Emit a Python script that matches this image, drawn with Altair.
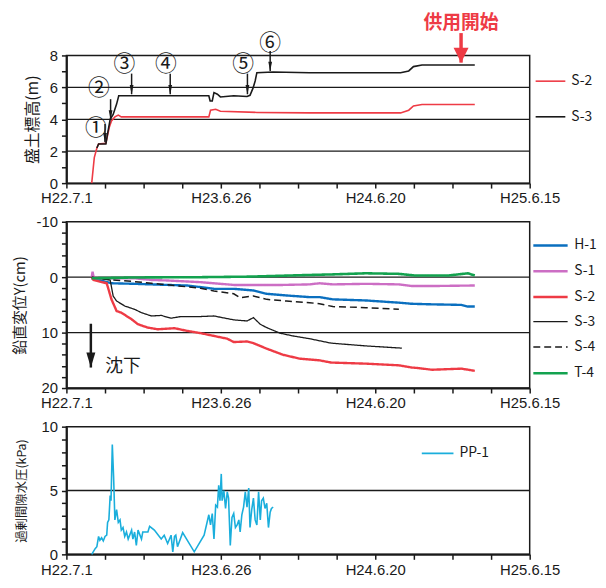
import altair as alt
import pandas as pd

# ---------------- x axis (days since H22.7.1) ----------------
x_tick_days = list(range(0, 1081, 90))
x_label_days = [0, 360, 720, 1080]
x_label_text = ["H22.7.1", "H23.6.26", "H24.6.20", "H25.6.15"]

# ---------------- panel 1: embankment height (m) ----------------
top_s2_day = [59, 65, 71, 75, 92, 100, 105, 113, 121, 128, 332, 336, 348, 359, 444, 567, 779, 798, 809, 829, 952]
top_s2_val = [0, 1.6, 2.2, 2.45, 2.5, 3.5, 3.9, 4.15, 4.26, 4.15, 4.15, 4.57, 4.63, 4.5, 4.43, 4.4, 4.4, 4.57, 4.84, 4.93, 4.93]
top_s3_day = [71, 75, 92, 96, 102, 109, 117, 122, 332, 335, 340, 344, 352, 359, 390, 421, 428, 435, 440, 444, 482, 567, 779, 798, 809, 829, 952]
top_s3_val = [2.2, 2.45, 2.45, 3.1, 4.0, 4.3, 4.95, 5.47, 5.47, 5.15, 5.15, 5.67, 5.57, 5.4, 5.47, 5.43, 5.5, 5.95, 6.4, 6.92, 6.96, 6.92, 6.92, 7.03, 7.3, 7.4, 7.4]
top_grid = [2, 4, 6]

step_labels = ["①", "②", "③", "④", "⑤", "⑥"]
step_label_day = [69, 76, 135, 232, 412, 475]
step_label_val = [3.45, 5.95, 7.44, 7.44, 7.44, 8.8]
step_arrow_day = [90, 103, 152, 242, 422, 475]
step_arrow_from = [3.7, 5.26, 6.86, 6.86, 6.86, 8.27]
step_arrow_to = [2.56, 4.0, 5.57, 5.57, 5.57, 7.03]

open_text = "供用開始"
open_day = 920
open_text_val = 10.03
open_arrow_from = 9.4
open_arrow_to = 7.55

# ---------------- panel 2: vertical displacement (cm) ----------------
h1_day = [59, 105, 159, 236, 282, 344, 390, 436, 467, 513, 567, 590, 621, 698, 775, 805, 852, 921, 936, 952]
h1_val = [0.2, 1.1, 1.2, 1.4, 1.5, 2.1, 2.1, 2.4, 3.0, 3.3, 3.6, 3.6, 4.0, 4.2, 4.6, 4.8, 4.9, 5.0, 5.3, 5.3]
s1_day = [59, 61, 64, 159, 198, 236, 313, 390, 436, 505, 567, 590, 621, 698, 775, 805, 852, 952]
s1_val = [0, -1.0, 0.2, 0.2, 0.5, 0.6, 0.9, 1.4, 1.4, 1.4, 1.3, 1.1, 1.3, 1.2, 1.3, 1.6, 1.6, 1.5]
s2_day = [59, 63, 94, 105, 117, 128, 152, 167, 190, 213, 252, 282, 313, 344, 375, 390, 421, 436, 467, 505, 544, 590, 617, 698, 775, 805, 821, 852, 921, 952]
s2_val = [0, 0.5, 1.1, 4.0, 6.1, 6.4, 7.6, 8.5, 9.1, 9.4, 9.2, 9.7, 10.1, 10.6, 11.1, 11.7, 11.6, 11.9, 12.9, 14.0, 14.7, 15.0, 15.4, 15.6, 15.9, 16.3, 16.4, 16.7, 16.5, 16.9]
s3_day = [59, 102, 109, 117, 136, 159, 175, 198, 221, 244, 267, 313, 344, 390, 421, 436, 452, 467, 498, 528, 567, 617, 698, 782]
s3_val = [0, 0.5, 3.4, 4.3, 5.2, 5.8, 6.4, 7.0, 6.9, 7.4, 7.1, 7.1, 7.0, 7.7, 7.9, 7.3, 8.5, 9.1, 10.1, 10.6, 11.1, 11.9, 12.4, 12.8]
s4_day = [59, 105, 159, 198, 252, 313, 344, 390, 405, 436, 467, 513, 567, 590, 621, 698, 775]
s4_val = [0, 0.5, 0.8, 1.1, 1.5, 2.0, 2.5, 3.0, 3.7, 3.4, 4.0, 4.3, 4.6, 4.8, 5.3, 5.5, 5.8]
t4_day = [59, 159, 313, 428, 567, 621, 698, 775, 813, 890, 936, 952]
t4_val = [0.2, 0.05, 0, -0.1, -0.4, -0.5, -0.7, -0.6, -0.3, -0.3, -0.7, -0.3]
mid_grid = [0, 10]
sink_text = "沈下"
sink_day = 57
sink_from = 8.4
sink_to = 16.3
sink_text_day = 132
sink_text_val = 16.2

# ---------------- panel 3: excess pore water pressure (kPa) ----------------
pp_day = [59, 67, 71, 75, 78, 82, 86, 90, 94, 96, 99, 102, 104, 107, 110, 113, 117, 121, 125, 128, 132, 136, 140, 144,
          152, 155, 159, 163, 167, 175, 178, 190, 194, 205, 221, 228, 236, 244, 248, 252, 255, 259, 271, 298, 321, 332,
          336, 340, 344, 348, 352, 355, 358, 361, 363, 367, 371, 375, 378, 382, 386, 390, 394, 398, 402, 405, 409, 413,
          417, 421, 425, 428, 432, 436, 440, 444, 448, 452, 455, 459, 463, 467, 471, 475, 478, 482]
pp_val = [0, 0.45, 0.6, 1.4, 1.1, 1.3, 1.05, 1.4, 1.5, 2.5, 2.7, 4.6, 4.2, 8.6, 6.1, 2.7, 3.5, 2.5, 2.7, 1.9, 2.1, 1.4,
          1.75, 1.2, 1.9, 1.2, 1.75, 0.7, 1.9, 1.2, 1.75, 1.75, 2.2, 1.9, 1.2, 1.5, 0.85, 1.5, 0.2, 1.4, 1.5, 0.6, 1.7,
          0.2, 1.5, 3.1, 2.3, 3.2, 1.2, 3.85, 3.7, 5.4, 4.2, 6.3, 4.2, 5.0, 3.6, 4.9, 4.4, 0.7, 2.9, 3.2, 2.1, 2.3, 2.7,
          1.75, 3.1, 3.7, 4.9, 3.7, 5.2, 2.1, 3.5, 4.4, 2.7, 2.3, 4.9, 2.7, 4.2, 4.4, 3.6, 4.0, 2.1, 3.3, 3.6, 3.7]
bot_grid = [5]

# ---------------- styling ----------------
RED = "#EE3B45"
BLACK = "#1a1a1a"
BLUE = "#0A6FBF"
PINK = "#CC6EC4"
GREEN = "#13A24F"
CYAN = "#1AAEDC"
LABEL_FONT = "Liberation Sans"
JP_FONT = "Noto Sans CJK JP"

W = 468

x_expr = " : ".join(f"datum.value == {d} ? '{t}'" for d, t in zip(x_label_days, x_label_text)) + " : ''"

X_AXIS = alt.Axis(values=x_tick_days, labelExpr=x_expr, grid=False, title=None,
                  labelFont=LABEL_FONT, labelFontSize=15, labelPadding=3,
                  labelOverlap=False, labelFlush=False)
X_SCALE = alt.Scale(domain=[0, 1080], nice=False, zero=False)


def xq(field):
    return alt.X(field, scale=X_SCALE, axis=X_AXIS)


def make_y(domain, values, every, title, title_size, title_pad, reverse=False):
    scale = alt.Scale(domain=domain, nice=False, zero=False, reverse=reverse)
    axis = alt.Axis(values=values,
                    labelExpr=f"datum.value % {every} == 0 ? ('' + datum.value) : ''",
                    grid=False, title=title, titleFont=JP_FONT, titleFontSize=title_size,
                    titleFontWeight="normal", titlePadding=title_pad,
                    labelFont=LABEL_FONT, labelFontSize=15, labelOverlap=False, labelPadding=4)

    def y(field):
        return alt.Y(field, scale=scale, axis=axis)

    def y2(field):
        return alt.Y2(field)
    return y, y2


def arrow_head(k):
    return f"M-{k},-1L{k},-1L0,1Z"


# ---------- panel 1 ----------
top_lines = pd.concat([
    pd.DataFrame({"day": top_s2_day, "v": top_s2_val, "series": "S-2"}),
    pd.DataFrame({"day": top_s3_day, "v": top_s3_val, "series": "S-3"}),
])
y1, y1b = make_y([0, 8], list(range(0, 9)), 2, "盛土標高(m)", 16, 9)

p1_grid = alt.Chart(pd.DataFrame({"g": top_grid})).mark_rule(color=BLACK, strokeWidth=1.3).encode(y=y1("g:Q"))
p1_lines = alt.Chart(top_lines).mark_line(strokeWidth=1.6).encode(
    x=xq("day:Q"), y=y1("v:Q"),
    color=alt.Color("series:N", scale=alt.Scale(domain=["S-2", "S-3"], range=[RED, BLACK]),
                    legend=alt.Legend(orient="none", legendX=473, legendY=10, title=None, symbolType="stroke",
                                      symbolSize=900, symbolStrokeWidth=1.6, labelFont=JP_FONT, labelFontSize=14,
                                      labelOffset=5, rowPadding=13)),
)
steps = pd.DataFrame({"lab": step_labels, "lday": step_label_day, "lval": step_label_val,
                      "aday": step_arrow_day, "afrom": step_arrow_from, "ato": step_arrow_to})
p1_shaft = alt.Chart(steps).mark_rule(color=BLACK, strokeWidth=1.5).encode(
    x=xq("aday:Q"), y=y1("afrom:Q"), y2=y1b("ato:Q"))
p1_head = alt.Chart(steps).mark_point(shape=arrow_head(0.4), filled=True, color=BLACK, opacity=1, size=90,
                                      yOffset=-4.5, strokeWidth=0).encode(x=xq("aday:Q"), y=y1("ato:Q"))
p1_lab = alt.Chart(steps).mark_text(font=JP_FONT, fontSize=22, color=BLACK).encode(
    x=xq("lday:Q"), y=y1("lval:Q"), text="lab:N")
opendf = pd.DataFrame({"day": [open_day], "t": [open_text], "tv": [open_text_val],
                       "f": [open_arrow_from], "to": [open_arrow_to]})
p1_oshaft = alt.Chart(opendf).mark_rule(color=RED, strokeWidth=3.5).encode(
    x=xq("day:Q"), y=y1("f:Q"), y2=y1b("to:Q"))
p1_ohead = alt.Chart(opendf).mark_point(shape=arrow_head(1), filled=True, color=RED, opacity=1, size=230,
                                        yOffset=-7.5, strokeWidth=0).encode(x=xq("day:Q"), y=y1("to:Q"))
p1_otext = alt.Chart(opendf).mark_text(font=JP_FONT, fontSize=19, color=RED, fontWeight="bold").encode(
    x=xq("day:Q"), y=y1("tv:Q"), text="t:N")

panel1 = alt.layer(p1_grid, p1_lines, p1_shaft, p1_head, p1_lab, p1_oshaft, p1_ohead, p1_otext).properties(
    width=W, height=129)

# ---------- panel 2 ----------
mid_names = ["H-1", "S-1", "S-2", "S-3", "S-4", "T-4"]
mid_colors = [BLUE, PINK, RED, BLACK, BLACK, GREEN]
mid_dash = [[1, 0], [1, 0], [1, 0], [1, 0], [7, 4], [1, 0]]
mid_width = [2.4, 2.4, 2.4, 1.3, 1.5, 2.6]
mid = pd.concat([
    pd.DataFrame({"day": h1_day, "v": h1_val, "series": "H-1"}),
    pd.DataFrame({"day": s1_day, "v": s1_val, "series": "S-1"}),
    pd.DataFrame({"day": s2_day, "v": s2_val, "series": "S-2"}),
    pd.DataFrame({"day": s3_day, "v": s3_val, "series": "S-3"}),
    pd.DataFrame({"day": s4_day, "v": s4_val, "series": "S-4"}),
    pd.DataFrame({"day": t4_day, "v": t4_val, "series": "T-4"}),
])
y2m, y2mb = make_y([-10, 20], list(range(-10, 21, 2)), 10, "鉛直変位Y(cm)", 15, 9, reverse=True)
leg2 = dict(orient="none", legendX=470, legendY=5, title=None, symbolType="stroke", symbolSize=1200,
            symbolStrokeWidth=2.2, labelFont=JP_FONT, labelFontSize=14, labelOffset=5, rowPadding=0)
p2_grid = alt.Chart(pd.DataFrame({"g": mid_grid})).mark_rule(color=BLACK, strokeWidth=1.2).encode(y=y2m("g:Q"))
p2_lines = alt.Chart(mid).mark_line().encode(
    x=xq("day:Q"), y=y2m("v:Q"),
    color=alt.Color("series:N", scale=alt.Scale(domain=mid_names, range=mid_colors), legend=alt.Legend(**leg2)),
    strokeDash=alt.StrokeDash("series:N", scale=alt.Scale(domain=mid_names, range=mid_dash), legend=alt.Legend(**leg2)),
    strokeWidth=alt.StrokeWidth("series:N", scale=alt.Scale(type="ordinal", domain=mid_names, range=mid_width),
                                legend=None),
)
sinkdf = pd.DataFrame({"day": [sink_day], "f": [sink_from], "to": [sink_to],
                       "tday": [sink_text_day], "tv": [sink_text_val], "t": [sink_text]})
p2_shaft = alt.Chart(sinkdf).mark_rule(color=BLACK, strokeWidth=2.5).encode(
    x=xq("day:Q"), y=y2m("f:Q"), y2=y2mb("to:Q"))
p2_head = alt.Chart(sinkdf).mark_point(shape=arrow_head(0.6), filled=True, color=BLACK, opacity=1, size=230,
                                       yOffset=-7.5, strokeWidth=0).encode(x=xq("day:Q"), y=y2m("to:Q"))
p2_text = alt.Chart(sinkdf).mark_text(font=JP_FONT, fontSize=18, color=BLACK).encode(
    x=xq("tday:Q"), y=y2m("tv:Q"), text="t:N")
panel2 = alt.layer(p2_grid, p2_lines, p2_shaft, p2_head, p2_text).properties(width=W, height=168)

# ---------- panel 3 ----------
pp = pd.DataFrame({"day": pp_day, "v": pp_val, "series": "PP-1"})
y3, y3b = make_y([0, 10], list(range(0, 11)), 5, "過剰間隙水圧(kPa)", 12.5, 13)
p3_grid = alt.Chart(pd.DataFrame({"g": bot_grid})).mark_rule(color=BLACK, strokeWidth=1.3).encode(y=y3("g:Q"))
p3_line = alt.Chart(pp).mark_line(strokeWidth=1.6).encode(
    x=xq("day:Q"), y=y3("v:Q"),
    color=alt.Color("series:N", scale=alt.Scale(domain=["PP-1"], range=[CYAN]),
                    legend=alt.Legend(orient="none", legendX=358, legendY=10, title=None, symbolType="stroke",
                                      symbolSize=1024, symbolStrokeWidth=2, labelFont=JP_FONT, labelFontSize=14,
                                      labelOffset=5)),
)
panel3 = alt.layer(p3_grid, p3_line).properties(width=W, height=129)

chart = alt.vconcat(panel1, panel2, panel3, spacing=7).resolve_scale(
    color="independent", strokeDash="independent", strokeWidth="independent"
).properties(padding={"left": 3, "top": 2, "right": 0, "bottom": 0}).configure(font=JP_FONT).configure_view(
    stroke=BLACK, strokeWidth=1.5
).configure_axis(
    domainColor=BLACK, domainWidth=2, tickColor=BLACK, tickWidth=1.5, tickSize=5, labelColor=BLACK,
    titleColor=BLACK, labelOverlap=False
).configure_legend(labelColor=BLACK)

chart.save("out.html", embed_options={"renderer": "svg", "actions": False})
